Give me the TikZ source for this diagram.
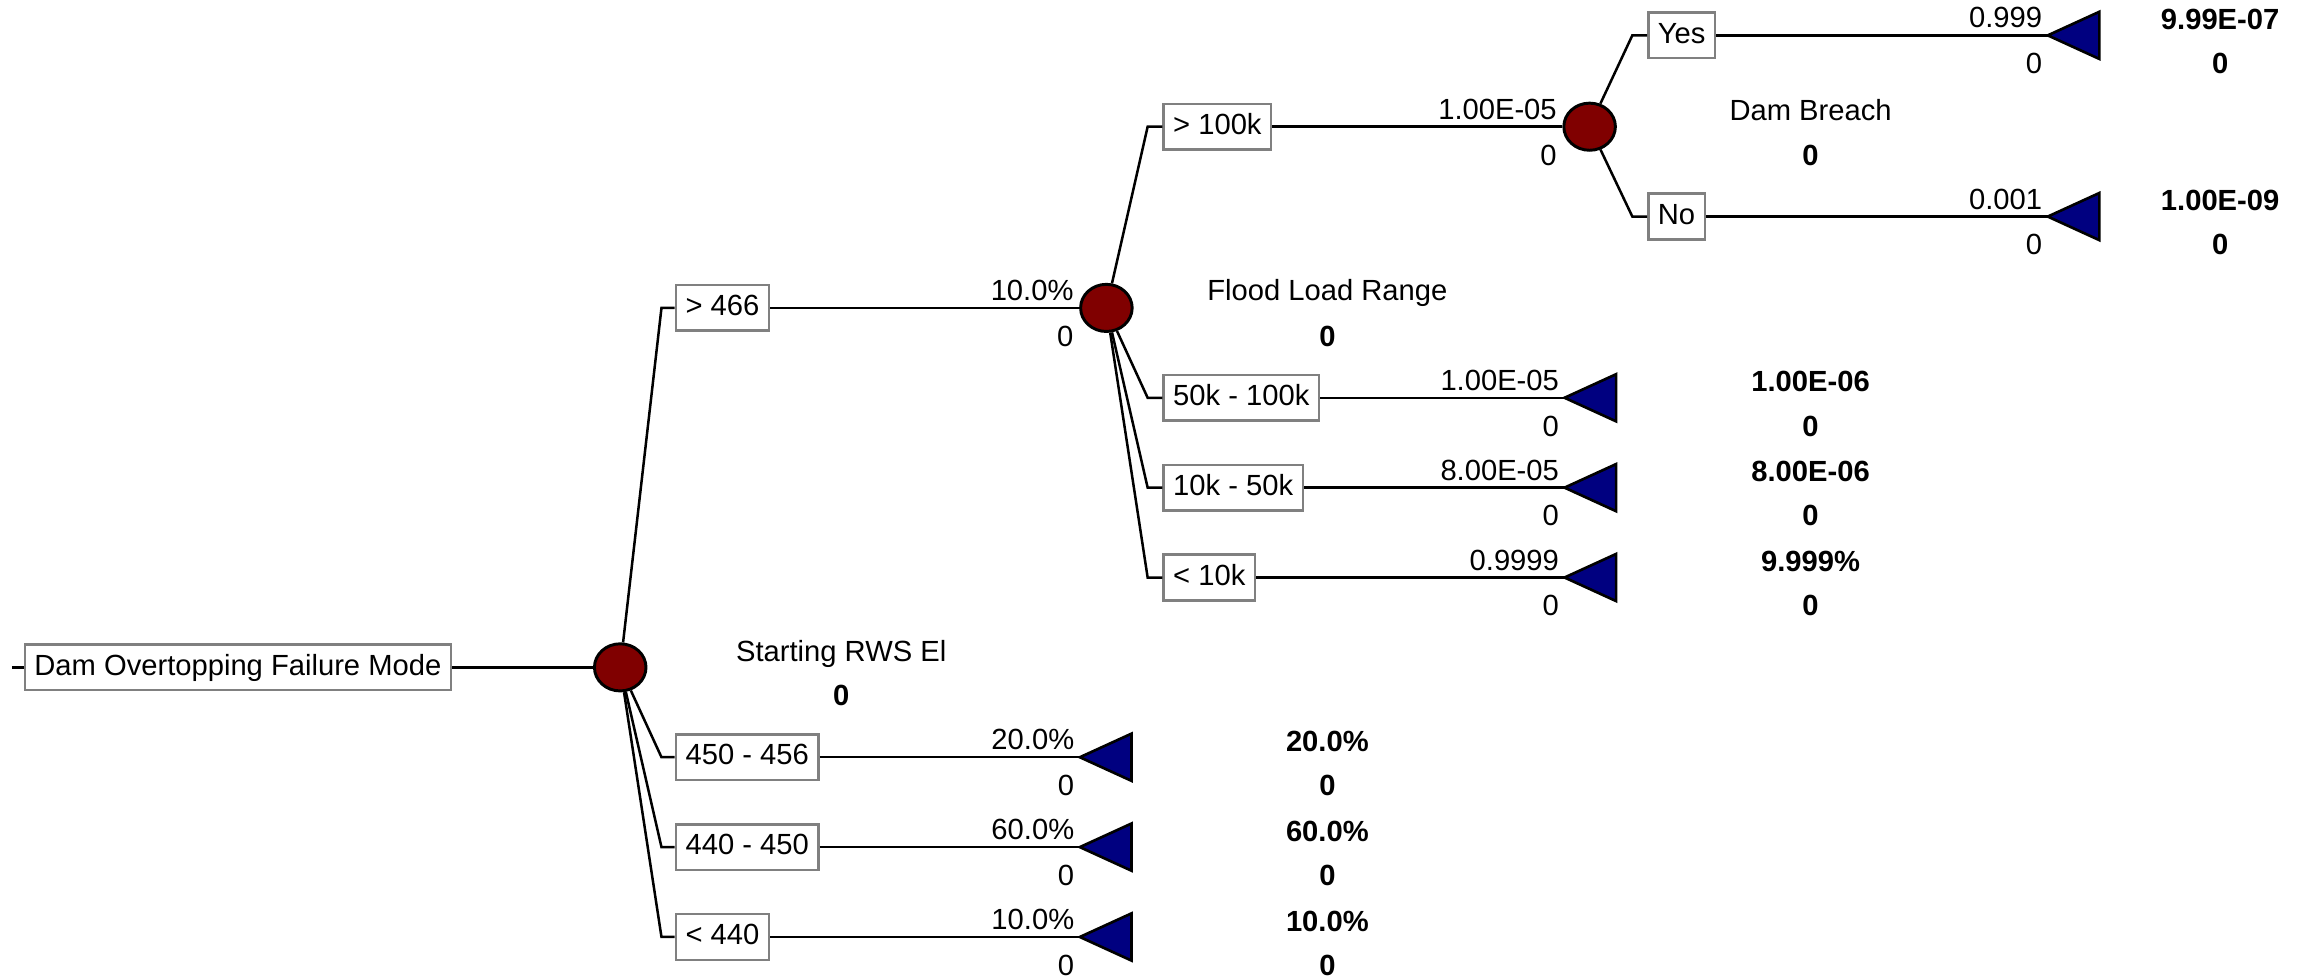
\documentclass[tikz,border=0pt]{standalone}
\usepackage{fontspec}
\setmainfont{Liberation Sans}
\usetikzlibrary{shapes.geometric,positioning,calc}

\definecolor{chancered}{RGB}{128,0,0}
\definecolor{termblue}{RGB}{0,0,128}
\definecolor{boxgray}{RGB}{128,128,128}
\newcommand\dtfont{\fontsize{19.8}{24}\selectfont}
\newcommand\termtri[1]{\filldraw[term] (#1) -- ++(35,-16) -- ++(0,32) -- cycle;}

\tikzset{
    conn/.style={line width=1.7pt},
    branch/.style={draw=boxgray, fill=white, line width=1.7pt, inner xsep=6.5pt, inner ysep=0pt,
        minimum height=31pt, text height=14.5pt, text depth=4pt, anchor=west},
    chance/.style={ellipse, draw=black, fill=chancered, line width=2pt, minimum width=35pt,
        minimum height=32pt, inner sep=0pt},
    term/.style={fill=termblue, draw=black, line width=1.8pt},
    prob/.style={pos=1, anchor=base east, xshift=-3pt, yshift=5pt, inner sep=0pt},
    zero/.style={pos=1, anchor=base east, xshift=-3pt, yshift=-26pt, inner sep=0pt},
    lbl/.style={anchor=base, inner sep=0pt},
    val/.style={anchor=base, inner sep=0pt, font=\dtfont\bfseries}
}

\begin{document}
\begin{tikzpicture}[x=1pt, y=-1pt, font=\dtfont]
    \useasboundingbox (0,0) rectangle (1568,664);

    \coordinate (stub) at (8,453);
    \node[branch] (root) at (16,453) {Dam Overtopping Failure Mode};
    \node[chance] (c1) at (421,453) {};
    \node[branch] (b466) at (458,209) {> 466};
    \node[branch] (b456) at (458,514) {450 - 456};
    \node[branch] (b450) at (458,575) {440 - 450};
    \node[branch] (b440) at (458,636) {< 440};
    \node[chance] (c2) at (751,209) {};
    \node[branch] (b100k) at (789,86) {> 100k};
    \node[branch] (b50k) at (789,270) {50k - 100k};
    \node[branch] (b10k) at (789,331) {10k - 50k};
    \node[branch] (blt10k) at (789,392) {< 10k};
    \node[chance] (c3) at (1079,86) {};
    \node[branch] (byes) at (1118,24) {Yes};
    \node[branch] (bno) at (1118,147) {No};

    \coordinate (t456) at (733,514);
    \coordinate (t450) at (733,575);
    \coordinate (t440) at (733,636);
    \coordinate (t50k) at (1062,270);
    \coordinate (t10k) at (1062,331);
    \coordinate (tlt10k) at (1062,392);
    \coordinate (tyes) at (1390,24);
    \coordinate (tno) at (1390,147);

    \draw[conn] (stub) -- (root);
    \draw[conn] (root) -- (c1);
    \draw[conn] (c1) -- ([xshift=-9pt]b466.west) -- (b466);
    \draw[conn] (c1) -- ([xshift=-9pt]b456.west) -- (b456);
    \draw[conn] (c1) -- ([xshift=-9pt]b450.west) -- (b450);
    \draw[conn] (c1) -- ([xshift=-9pt]b440.west) -- (b440);
    \draw[conn] (c2) -- ([xshift=-10pt]b100k.west) -- (b100k);
    \draw[conn] (c2) -- ([xshift=-10pt]b50k.west) -- (b50k);
    \draw[conn] (c2) -- ([xshift=-10pt]b10k.west) -- (b10k);
    \draw[conn] (c2) -- ([xshift=-10pt]blt10k.west) -- (blt10k);
    \draw[conn] (c3) -- ([xshift=-10pt]byes.west) -- (byes);
    \draw[conn] (c3) -- ([xshift=-10pt]bno.west) -- (bno);

    \draw[conn] (b466) -- node[prob]{10.0\%} node[zero]{0} (c2);
    \draw[conn] (b456) -- node[prob]{20.0\%} node[zero]{0} (t456);
    \draw[conn] (b450) -- node[prob]{60.0\%} node[zero]{0} (t450);
    \draw[conn] (b440) -- node[prob]{10.0\%} node[zero]{0} (t440);
    \draw[conn] (b100k) -- node[prob]{1.00E-05} node[zero]{0} (c3);
    \draw[conn] (b50k) -- node[prob]{1.00E-05} node[zero]{0} (t50k);
    \draw[conn] (b10k) -- node[prob]{8.00E-05} node[zero]{0} (t10k);
    \draw[conn] (blt10k) -- node[prob]{0.9999} node[zero]{0} (tlt10k);
    \draw[conn] (byes) -- node[prob]{0.999} node[zero]{0} (tyes);
    \draw[conn] (bno) -- node[prob]{0.001} node[zero]{0} (tno);

    \termtri{t456}
    \termtri{t450}
    \termtri{t440}
    \termtri{t50k}
    \termtri{t10k}
    \termtri{tlt10k}
    \termtri{tyes}
    \termtri{tno}

    \node[lbl] (c1name) at (571,449) {Starting RWS El};
    \node[val] (c1val) at (571,479) {0};
    \node[lbl] (c2name) at (901,204) {Flood Load Range};
    \node[val] (c2val) at (901,235) {0};
    \node[lbl] (c3name) at (1229,82) {Dam Breach};
    \node[val] (c3val) at (1229,112) {0};

    \node[val] (v456) at (901,510) {20.0\%};
    \node[val] (v456z) at (901,540) {0};
    \node[val] (v450) at (901,571) {60.0\%};
    \node[val] (v450z) at (901,601) {0};
    \node[val] (v440) at (901,632) {10.0\%};
    \node[val] (v440z) at (901,662) {0};
    \node[val] (v50k) at (1229,266) {1.00E-06};
    \node[val] (v50kz) at (1229,296) {0};
    \node[val] (v10k) at (1229,327) {8.00E-06};
    \node[val] (v10kz) at (1229,357) {0};
    \node[val] (vlt10k) at (1229,388) {9.999\%};
    \node[val] (vlt10kz) at (1229,418) {0};
    \node[val] (vyes) at (1507,20) {9.99E-07};
    \node[val] (vyesz) at (1507,50) {0};
    \node[val] (vno) at (1507,143) {1.00E-09};
    \node[val] (vnoz) at (1507,173) {0};
\end{tikzpicture}
\end{document}
